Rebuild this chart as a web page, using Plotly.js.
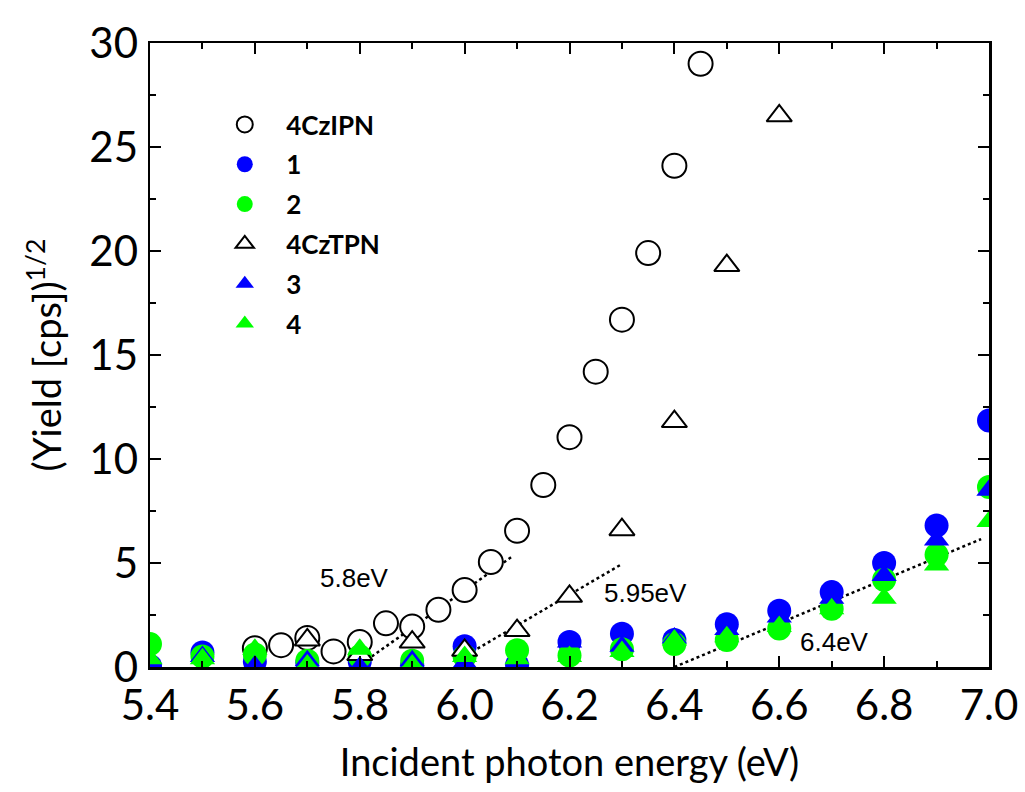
<!DOCTYPE html>
<html>
<head>
<meta charset="utf-8">
<script src="https://cdn.plot.ly/plotly-3.0.1.min.js"></script>
<style>html,body{margin:0;padding:0;background:#fff;}#chart{width:1025px;height:792px;}</style>
</head>
<body>
<div id="chart"></div>
<script>
// ---- data ----
const energyIPN = [5.60,5.65,5.70,5.75,5.80,5.85,5.90,5.95,6.00,6.05,6.10,6.15,6.20,6.25,6.30,6.35,6.40,6.45];
const yieldIPN  = [0.9,1.05,1.4,0.75,1.2,2.1,1.95,2.75,3.7,5.05,6.55,8.75,11.05,14.2,16.7,19.9,24.1,29.0];

const energyStep = [5.4,5.5,5.6,5.7,5.8,5.9,6.0,6.1,6.2,6.3,6.4,6.5,6.6,6.7,6.8,6.9,7.0];
const yield1 = [0.05,0.7,0.25,0.2,0.25,0.1,1.0,0.1,1.2,1.6,1.3,2.05,2.7,3.6,5.0,6.8,11.85];
const yield2 = [1.1,0.5,0.6,0.3,0.5,0.3,0.5,0.8,0.55,0.85,1.1,1.3,1.85,2.8,4.2,5.4,8.65];
const yield3 = [0.1,0.5,0.05,0.3,0.0,0.3,0.2,0.0,1.2,1.0,1.4,1.8,2.4,3.3,4.4,6.1,8.5];
const yield4 = [0.4,0.4,0.85,0.1,0.85,0.1,0.5,0.4,0.5,0.75,1.3,1.45,1.95,2.8,3.3,4.9,7.0];

const energyTPN = [5.7,5.8,5.9,6.0,6.1,6.2,6.3,6.4,6.5,6.6];
const yieldTPN  = [1.3,0.6,1.2,0.8,1.75,3.4,6.6,11.8,19.3,26.5];

const seriesNames = ['4CzIPN','1','2','4CzTPN','3','4'];

// onset fit lines
const fit58E = [5.795, 6.09],  fit58Y = [0, 5.3];
const fit595E = [5.985, 6.30], fit595Y = [0.3, 4.95];
const fit64E = [6.40, 6.985],  fit64Y = [0, 6.15];
const onsetLabels = ['5.8eV','5.95eV','6.4eV'];
const onsetLabelE = [5.79, 6.345, 6.705];
const onsetLabelY = [4.3, 3.55, 1.2];

const BLUE = '#0000ff', GREEN = '#00ff00';

function pts(name, x, y, symbol, color, fill, group){
  const open = fill === '#ffffff';
  return {
    type:'scatter', mode:'markers', name:name, x:x, y:y, legendgroup:group,
    marker:{symbol:symbol, size: symbol==='circle'?24:22, color:fill,
            line:{color: open ? '#000' : color, width: open ? 2 : 0}}
  };
}
function fit(x, y){
  return {type:'scatter', mode:'lines', x:x, y:y, showlegend:false, hoverinfo:'skip',
          line:{color:'#000', width:2.5, dash:'dot'}};
}

const traces = [
  fit(fit58E, fit58Y), fit(fit595E, fit595Y), fit(fit64E, fit64Y),
  pts(seriesNames[0], energyIPN, yieldIPN, 'circle', '#000', '#ffffff','g1'),
  pts(seriesNames[1], energyStep, yield1, 'circle', BLUE, BLUE,'g2'),
  pts(seriesNames[2], energyStep, yield2, 'circle', GREEN, GREEN,'g3'),
  pts(seriesNames[3], energyTPN, yieldTPN, 'triangle-up', '#000', '#ffffff','g4'),
  pts(seriesNames[4], energyStep, yield3, 'triangle-up', BLUE, BLUE,'g5'),
  pts(seriesNames[5], energyStep, yield4, 'triangle-up', GREEN, GREEN,'g6')
];

const axisFont = {family:'Lato, "Open Sans", sans-serif', size:42, color:'#000'};
const layout = {
  width:1025, height:792,
  margin:{l:150, r:36, t:43, b:125},
  paper_bgcolor:'#fff', plot_bgcolor:'#fff',
  showlegend:true,
  legend:{x:0.0635, y:0.907, xanchor:'left', yanchor:'top', bgcolor:'rgba(0,0,0,0)',
          font:{family:'Lato, sans-serif', size:26, weight:'bold', color:'#000'},
          tracegroupgap:3, borderwidth:0, itemwidth:73, traceorder:'grouped'},
  xaxis:{range:[5.4,7.0], tick0:5.4, dtick:0.2, tickformat:'.1f',
         ticks:'inside', ticklen:11, tickwidth:2, tickcolor:'#000',
         minor:{dtick:0.1, ticks:'inside', ticklen:6, tickwidth:2, tickcolor:'#000'},
         showline:true, linewidth:2.5, linecolor:'#000', mirror:'ticks',
         showgrid:false, zeroline:false, tickfont:axisFont,
         title:{text:'Incident photon energy (eV)', font:{family:'Lato, sans-serif', size:38, color:'#000'}, standoff:22}},
  yaxis:{range:[0,30], tick0:0, dtick:5,
         ticks:'inside', ticklen:11, tickwidth:2, tickcolor:'#000',
         minor:{dtick:2.5, ticks:'inside', ticklen:6, tickwidth:2, tickcolor:'#000'},
         showline:true, linewidth:2.5, linecolor:'#000', mirror:'ticks',
         showgrid:false, zeroline:false, tickfont:axisFont, ticklabelstandoff:1,
         title:{text:'(Yield [cps])<sup>1/2</sup>', font:{family:'Lato, sans-serif', size:38, color:'#000'}, standoff:16}},
  annotations: onsetLabels.map((t,i)=>({x:onsetLabelE[i], y:onsetLabelY[i], xref:'x', yref:'y',
      text:t, showarrow:false, font:{family:'"Liberation Sans", Arial, sans-serif', size:26, color:'#000'}}))
};

Plotly.newPlot('chart', traces, layout, {displayModeBar:false, staticPlot:true});
</script>
</body>
</html>
